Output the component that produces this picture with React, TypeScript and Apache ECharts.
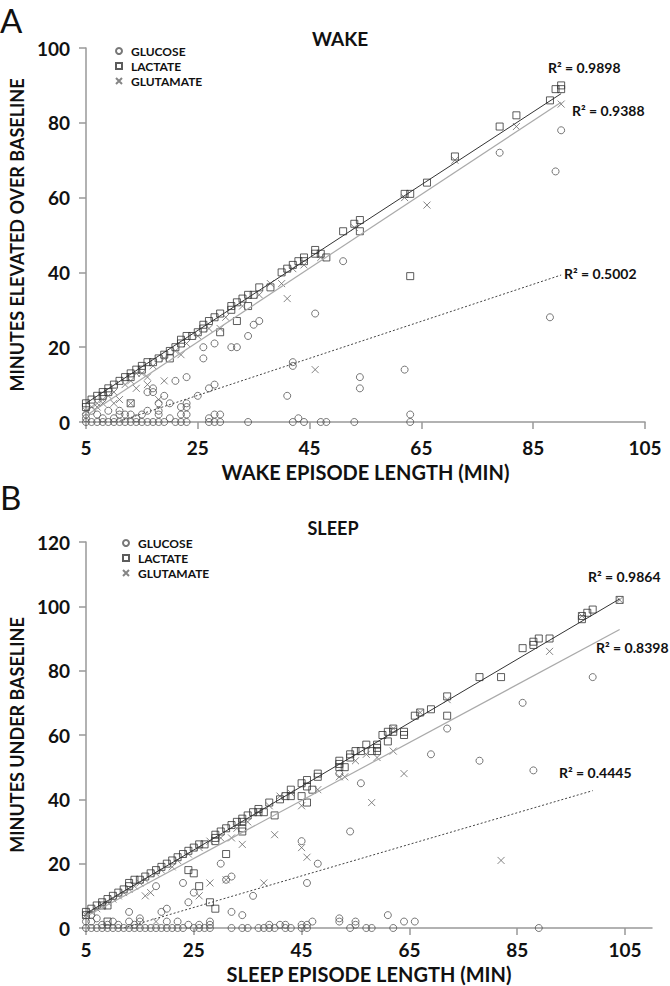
import React, { useEffect, useRef } from 'react';
import * as echarts from 'echarts';

const FONT = 'Lato, "Liberation Sans", sans-serif';

const seriesNames = ['GLUCOSE', 'LACTATE', 'GLUTAMATE'];
const xTicks = [5, 25, 45, 65, 85, 105];

// ---------- Panel A: WAKE ----------
const wakeGlucose: number[][] = [
  [5, 0], [6, 0], [7, 0], [8, 0], [9, 0], [10, 0], [11, 0], [12, 0], [13, 0], [14, 0], [15, 0], [16, 0],
  [17, 0], [18, 0], [19, 0], [21, 0], [22, 0], [23, 0], [27, 0], [28, 0], [29, 0], [34, 0], [42, 0], [44, 0],
  [47, 0], [48, 0], [53, 0], [63, 0],
  [5, 1], [5, 2], [6, 3], [7, 2], [8, 1], [9, 3], [10, 1], [11, 3], [11, 2], [12, 2], [13, 2], [14, 1],
  [15, 2], [16, 3], [18, 3], [18, 2], [20, 1], [22, 2], [23, 2], [22, 4], [23, 4], [23, 5], [27, 1], [28, 2],
  [29, 2], [43, 1], [63, 2],
  [16, 8], [17, 8], [17, 9], [18, 5], [19, 7], [20, 5], [21, 11], [23, 12], [25, 7], [27, 9], [28, 10],
  [26, 17], [26, 20], [28, 21], [31, 20], [32, 20], [34, 23], [35, 26], [36, 27], [41, 7], [42, 16], [42, 15],
  [46, 29], [51, 43], [54, 12], [54, 9], [62, 14], [88, 28], [89, 67], [79, 72], [90, 78],
];
const wakeLactate: number[][] = [
  [5, 5], [5, 4], [6, 6], [7, 7], [8, 7], [8, 8], [9, 9], [9, 8], [10, 10], [11, 11], [12, 12], [13, 13],
  [13, 12], [14, 14], [15, 15], [15, 14], [16, 16], [17, 16], [18, 17], [19, 18], [20, 19], [20, 17], [21, 20],
  [22, 21], [22, 22], [23, 23], [24, 23], [25, 24], [26, 25], [26, 26], [27, 27], [28, 28], [29, 29], [29, 24],
  [31, 30], [31, 31], [32, 32], [32, 27], [33, 33], [34, 34], [34, 31], [35, 34], [36, 36], [38, 36], [40, 40],
  [41, 41], [42, 42], [43, 43], [44, 44], [44, 43], [46, 46], [46, 45], [47, 45], [48, 44], [51, 51], [53, 53],
  [54, 54], [54, 51], [62, 61], [63, 61], [63, 39], [66, 64], [71, 71], [79, 79], [82, 82], [88, 86], [89, 89],
  [90, 90], [90, 89], [13, 5],
];
const wakeGlutamate: number[][] = [
  [5, 3], [6, 4], [7, 5], [8, 6], [9, 7], [10, 8], [12, 10], [13, 11], [14, 13], [15, 13], [17, 15], [19, 17],
  [21, 19], [23, 21], [25, 23], [27, 25], [29, 25], [30, 28], [33, 31], [36, 34], [38, 37], [40, 37], [42, 41],
  [44, 42], [47, 44], [53, 52], [62, 60], [71, 70], [82, 79], [90, 85], [66, 58],
  [7, 4], [8, 5], [10, 5], [11, 6], [13, 5], [14, 9], [16, 10], [16, 12], [18, 6], [19, 11], [22, 18], [41, 33],
  [46, 14],
];
const wakeTrendLactate: number[][] = [[5, 5], [90, 87.8]];
const wakeTrendGlutamate: number[][] = [[5, 1.7], [90, 85.5]];
const wakeTrendGlucose: number[][] = [[11, 0.2], [90, 39.3]];
const wakeR2 = ['R² = 0.9898', 'R² = 0.9388', 'R² = 0.5002'];

// ---------- Panel B: SLEEP ----------
const sleepGlucose: number[][] = [
  [5, 0], [6, 0], [7, 0], [8, 0], [9, 0], [10, 0], [11, 0], [12, 0], [13, 0], [14, 0], [15, 0], [16, 0], [17, 0],
  [18, 0], [19, 0], [20, 0], [21, 0], [22, 0], [23, 0], [25, 0], [26, 0], [27, 0], [28, 0], [32, 0], [34, 0],
  [35, 0], [37, 0], [38, 0], [39, 0], [40, 0], [42, 0], [43, 0], [45, 0], [46, 0], [54, 0], [57, 0], [58, 0],
  [62, 0], [89, 0],
  [5, 2], [6, 2], [6, 4], [7, 3], [8, 1], [9, 1], [10, 2], [11, 1], [13, 2], [14, 1], [15, 3], [15, 2], [20, 2],
  [22, 2], [24, 1], [26, 1], [28, 1], [28, 2], [39, 1], [41, 1], [42, 1], [45, 1], [46, 1], [47, 2], [52, 3],
  [52, 2], [55, 2], [55, 1], [61, 4], [64, 2], [66, 2],
  [13, 5], [18, 13], [19, 5], [20, 6], [23, 14], [24, 8], [25, 11], [30, 20], [31, 15], [32, 16], [32, 5],
  [34, 4], [36, 10], [45, 27], [46, 14], [48, 20], [52, 48], [54, 30], [56, 45], [69, 54], [72, 62], [78, 52],
  [86, 70], [88, 49], [99, 78],
];
const sleepLactate: number[][] = [
  [5, 5], [5, 4], [6, 6], [7, 7], [8, 7], [8, 8], [9, 9], [9, 7], [10, 10], [11, 11], [12, 12], [13, 13], [13, 14],
  [14, 15], [15, 15], [16, 16], [17, 17], [18, 18], [19, 19], [20, 20], [21, 21], [22, 22], [23, 23], [24, 24],
  [25, 25], [26, 26], [27, 26], [29, 28], [29, 29], [30, 30], [31, 31], [32, 32], [33, 33], [34, 34], [34, 33],
  [35, 35], [36, 36], [37, 37], [37, 36], [38, 36], [39, 39], [40, 35], [41, 40], [42, 41], [43, 43], [43, 41],
  [45, 45], [46, 46], [46, 44], [46, 39], [45, 41], [47, 43], [48, 48], [48, 47], [52, 52], [52, 51], [52, 50],
  [53, 50], [54, 54], [54, 53], [55, 55], [56, 55], [57, 57], [58, 55], [59, 57], [59, 56], [59, 55], [60, 60],
  [61, 61], [61, 58], [62, 62], [62, 61], [64, 61], [64, 60], [66, 66], [67, 67], [69, 68], [72, 72], [72, 66],
  [78, 78], [82, 78], [86, 87], [88, 89], [88, 88], [89, 90], [91, 90], [97, 97], [97, 96], [98, 98], [99, 99],
  [104, 102],
  [9, 2], [24, 18], [25, 17], [26, 13], [28, 8], [29, 6], [29, 27], [31, 23], [34, 31], [34, 30],
];
const sleepGlutamate: number[][] = [
  [5, 4], [6, 5], [7, 6], [8, 7], [9, 8], [10, 9], [11, 10], [12, 11], [13, 12], [14, 13], [15, 14], [16, 15],
  [18, 17], [19, 18], [21, 19], [22, 21], [24, 23], [26, 25], [28, 27], [30, 28], [32, 28], [33, 31], [35, 33],
  [37, 36], [39, 38], [41, 41], [43, 42], [45, 38], [48, 43], [52, 47], [53, 47], [55, 52], [57, 54], [59, 53],
  [62, 55], [62, 62], [64, 48], [67, 67], [72, 71], [82, 21], [91, 86], [97, 97], [104, 102], [58, 39], [40, 29],
  [45, 25], [46, 22], [38, 14], [28, 14], [26, 10], [17, 11], [16, 10], [18, 2], [34, 26], [31, 15],
];
const sleepTrendLactate: number[][] = [[5, 4.5], [104, 102.3]];
const sleepTrendGlutamate: number[][] = [[5, 3.6], [104, 92.8]];
const sleepTrendGlucose: number[][] = [[12, 0], [99, 42.7]];
const sleepR2 = ['R² = 0.9864', 'R² = 0.8398', 'R² = 0.4445'];

const CROSS = 'path://M0,0L10,10M10,0L0,10';

function scatter(name: string, data: number[][], symbol: string, size: number, color: string, idx: number) {
  return {
    type: 'scatter',
    name,
    data,
    symbol,
    symbolSize: size,
    xAxisIndex: idx,
    yAxisIndex: idx,
    itemStyle: { color: 'transparent', borderColor: color, borderWidth: 1 },
    emphasis: { disabled: true },
    z: 3,
  };
}

function trend(name: string, data: number[][], color: string, type: any, width: number, idx: number) {
  return {
    type: 'line',
    name,
    data,
    showSymbol: false,
    symbol: 'none',
    xAxisIndex: idx,
    yAxisIndex: idx,
    clip: true,
    lineStyle: { color, width, type },
    emphasis: { disabled: true },
    z: 4,
  };
}

function xAxis(idx: number, max: number, name: string, labelMargin: number, nameGap: number) {
  return {
    type: 'value',
    gridIndex: idx,
    min: 5,
    max,
    name,
    nameLocation: 'middle',
    nameGap,
    nameTextStyle: { fontFamily: FONT, fontWeight: 'bold', fontSize: 20, color: '#111' },
    axisLine: { show: true, onZero: true, lineStyle: { color: '#999', width: 1.5 } },
    axisTick: { show: true, length: 7, customValues: xTicks, lineStyle: { color: '#999', width: 1.5 } },
    axisLabel: {
      customValues: xTicks,
      margin: labelMargin,
      fontFamily: FONT,
      fontWeight: 'bold',
      fontSize: 19,
      color: '#111',
    },
    splitLine: { show: false },
  };
}

function yAxis(idx: number, max: number, name: string, nameGap: number) {
  return {
    type: 'value',
    gridIndex: idx,
    min: 0,
    max,
    interval: 20,
    name,
    nameLocation: 'middle',
    nameGap,
    nameTextStyle: { fontFamily: FONT, fontWeight: 'bold', fontSize: 18, color: '#111' },
    axisLine: { show: true, lineStyle: { color: '#999', width: 1.5 } },
    axisTick: { show: true, length: 7, lineStyle: { color: '#999', width: 1.5 } },
    axisLabel: { margin: 16, fontFamily: FONT, fontWeight: 'bold', fontSize: 19, color: '#111' },
    splitLine: { show: false },
  };
}

function legend(left: number, top: number) {
  return {
    orient: 'vertical',
    left,
    top,
    padding: 0,
    itemWidth: 6,
    itemHeight: 6,
    itemGap: 3,
    selectedMode: false,
    data: seriesNames,
    textStyle: { fontFamily: FONT, fontWeight: 'bold', fontSize: 12, color: '#111', padding: [0, 0, 0, 4] },
  };
}

function r2Text(text: string, x: number, y: number) {
  return {
    type: 'text',
    x,
    y,
    style: { text, fontFamily: FONT, fontWeight: 'bold', fontSize: 14, fill: '#111', verticalAlign: 'middle' },
  };
}

export default function App() {
  const ref = useRef<HTMLDivElement>(null);
  useEffect(() => {
    if (!ref.current) return;
    const chart = echarts.init(ref.current, undefined, { renderer: 'svg' });
    const option: any = {
      animation: false,
      backgroundColor: '#fff',
      textStyle: { fontFamily: FONT },
      grid: [
        { left: 70, top: 48, width: 575, height: 374 },
        { left: 70, top: 542, width: 582, height: 386 },
      ],
      xAxis: [
        xAxis(0, 105, 'WAKE EPISODE LENGTH (MIN)', 16, 40),
        xAxis(1, 110, 'SLEEP EPISODE LENGTH (MIN)', 12, 36),
      ],
      yAxis: [
        yAxis(0, 100, 'MINUTES ELEVATED OVER BASELINE', 53),
        yAxis(1, 120, 'MINUTES UNDER BASELINE', 53),
      ],
      legend: [legend(115, 45), legend(122, 537)],
      series: [
        scatter('GLUCOSE', wakeGlucose, 'circle', 7, '#555', 0),
        scatter('LACTATE', wakeLactate, 'rect', 7, '#333', 0),
        scatter('GLUTAMATE', wakeGlutamate, CROSS, 7, '#666', 0),
        trend('wake-lactate-trend', wakeTrendLactate, '#333', 'solid', 1, 0),
        trend('wake-glutamate-trend', wakeTrendGlutamate, '#aaa', 'solid', 1.2, 0),
        trend('wake-glucose-trend', wakeTrendGlucose, '#444', [2, 2], 1, 0),
        scatter('GLUCOSE', sleepGlucose, 'circle', 7, '#555', 1),
        scatter('LACTATE', sleepLactate, 'rect', 7, '#333', 1),
        scatter('GLUTAMATE', sleepGlutamate, CROSS, 7, '#666', 1),
        trend('sleep-lactate-trend', sleepTrendLactate, '#333', 'solid', 1, 1),
        trend('sleep-glutamate-trend', sleepTrendGlutamate, '#aaa', 'solid', 1.2, 1),
        trend('sleep-glucose-trend', sleepTrendGlucose, '#444', [2, 2], 1, 1),
      ],
      graphic: [
        { type: 'text', x: 0, y: 3, style: { text: 'A', fontFamily: FONT, fontSize: 33, fill: '#111', verticalAlign: 'top' } },
        { type: 'text', x: 0, y: 480, style: { text: 'B', fontFamily: FONT, fontSize: 33, fill: '#111', verticalAlign: 'top' } },
        {
          type: 'text', x: 340, y: 38,
          style: { text: 'WAKE', fontFamily: FONT, fontWeight: 'bold', fontSize: 19, fill: '#111', align: 'center', verticalAlign: 'middle' },
        },
        {
          type: 'text', x: 333, y: 528,
          style: { text: 'SLEEP', fontFamily: FONT, fontWeight: 'bold', fontSize: 18, fill: '#111', align: 'center', verticalAlign: 'middle' },
        },
        r2Text(wakeR2[0], 548, 67),
        r2Text(wakeR2[1], 572, 110),
        r2Text(wakeR2[2], 564, 273),
        r2Text(sleepR2[0], 588, 576),
        r2Text(sleepR2[1], 596, 647),
        r2Text(sleepR2[2], 559, 772),
      ],
    };
    chart.setOption(option);
    return () => chart.dispose();
  }, []);
  return (
    <div
      ref={ref}
      style={{ position: 'absolute', left: 0, top: 0, width: 670, height: 986, background: '#fff' }}
    />
  );
}
